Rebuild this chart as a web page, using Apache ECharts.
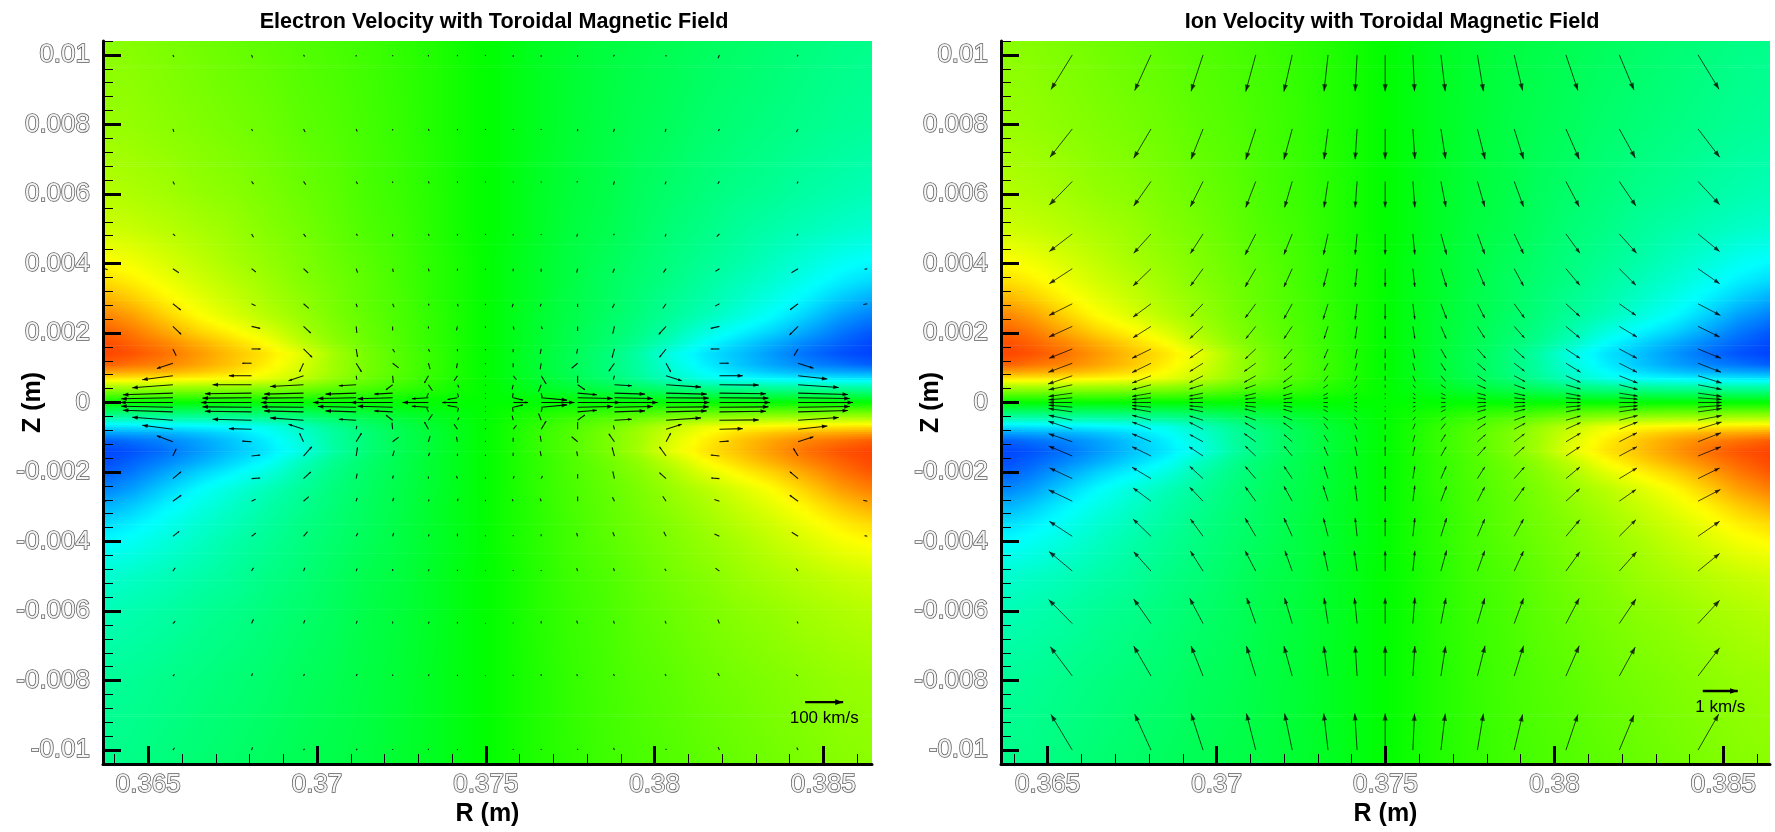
<!DOCTYPE html>
<html><head><meta charset="utf-8">
<style>html,body{margin:0;padding:0;background:#fff}#c{width:1775px;height:832px}</style>
<script src="https://cdn.jsdelivr.net/npm/echarts@6/dist/echarts.min.js"></script>
</head><body><div id="c"></div>
<script>
const titles = ['Electron Velocity with Toroidal Magnetic Field', 'Ion Velocity with Toroidal Magnetic Field'];
const xName = 'R (m)', yName = 'Z (m)';
const xTickLabels = [0.365, 0.37, 0.375, 0.38, 0.385];
const yTickLabels = [0.01, 0.008, 0.006, 0.004, 0.002, 0, -0.002, -0.004, -0.006, -0.008, -0.01];
const xMinorTicks = [0.364,0.366,0.367,0.368,0.369,0.371,0.372,0.373,0.374,0.376,0.377,0.378,0.379,0.381,0.382,0.383,0.384,0.386];
const yMinorTicks = [0.0104,0.0096,0.0092,0.0088,0.0084,0.0076,0.0072,0.0068,0.0064,0.0056,0.0052,0.0048,0.0044,0.0036,0.0032,0.0028,0.0024,0.0016,0.0012,0.0008,0.0004,-0.0004,-0.0008,-0.0012,-0.0016,-0.0024,-0.0028,-0.0032,-0.0036,-0.0044,-0.0048,-0.0052,-0.0056,-0.0064,-0.0068,-0.0072,-0.0076,-0.0084,-0.0088,-0.0092,-0.0096,-0.0104];
const colorValues = [-100, -50, 0, 50, 100];
const colorRGB = [[0,0,255],[0,255,255],[0,255,0],[255,255,0],[255,0,0]];

const fieldR = [0.3636,0.3645,0.3655,0.3665,0.3675,0.3685,0.3695,0.3705,0.3715,0.3725,0.3735,0.3745,0.3755,0.3765,0.3775,0.3785,0.3795,0.3805,0.3815,0.3825,0.3835,0.3845,0.3855,0.3864];
const fieldZ = [0.0105,0.008,0.006,0.005,0.004,0.0035,0.003,0.0025,0.002,0.0017,0.0014,0.0011,0.0009,0.0007,0.0005,0.0003,0.00015,0,-0.00015,-0.0003,-0.0005,-0.0007,-0.0009,-0.0011,-0.0014,-0.0017,-0.002,-0.0025,-0.003,-0.0035,-0.004,-0.005,-0.006,-0.008,-0.0105];
const fieldValues = [
[27,26,24,22,20,18,16,14,12,9,6,2,-2,-6,-9,-12,-14,-16,-18,-20,-22,-24,-26,-27],
[30,29,27,25,23,21,18,16,13,10,6,2,-2,-6,-10,-13,-16,-18,-21,-23,-25,-27,-29,-30],
[36,34,32,29,27,24,21,18,14,11,7,2,-2,-7,-11,-14,-18,-21,-24,-27,-29,-32,-34,-36],
[41,39,36,33,30,26,23,19,15,12,7,2,-2,-7,-12,-15,-19,-23,-26,-30,-33,-36,-39,-41],
[51,48,43,38,33,29,25,21,17,13,8,3,-3,-8,-13,-17,-21,-25,-29,-33,-38,-43,-48,-51],
[57,53,47,41,36,31,26,22,18,13,8,3,-3,-8,-13,-18,-22,-26,-31,-36,-41,-47,-53,-57],
[66,60,52,45,39,33,28,23,18,14,8,3,-3,-8,-14,-18,-23,-28,-33,-39,-45,-52,-60,-66],
[75,69,59,50,43,36,30,24,19,14,9,3,-3,-9,-14,-19,-24,-30,-36,-43,-50,-59,-69,-75],
[83,77,68,59,52,44,34,26,20,15,9,3,-3,-9,-15,-20,-26,-34,-44,-52,-59,-68,-77,-83],
[86,81,74,66,58,50,38,28,21,15,9,3,-3,-9,-15,-21,-28,-38,-50,-58,-66,-74,-81,-86],
[87,84,78,70,62,55,45,32,23,16,10,3,-3,-10,-16,-23,-32,-45,-55,-62,-70,-78,-84,-87],
[82,78,74,68,61,53,43,31,23,16,10,3,-3,-10,-16,-23,-31,-43,-53,-61,-68,-74,-78,-82],
[70,68,66,62,57,50,41,31,23,16,10,3,-3,-10,-16,-23,-31,-41,-50,-57,-62,-66,-68,-70],
[56,55,54,52,50,46,38,29,21,15,9,3,-3,-9,-15,-21,-29,-38,-46,-50,-52,-54,-55,-56],
[38,38,37,36,35,32,28,22,17,12,7,2,-2,-7,-12,-17,-22,-28,-32,-35,-36,-37,-38,-38],
[23,23,22,22,21,20,18,14,11,8,5,2,-2,-5,-8,-11,-14,-18,-20,-21,-22,-22,-23,-23],
[11,11,11,11,10,10,9,7,6,4,2,1,-1,-2,-4,-6,-7,-9,-10,-10,-11,-11,-11,-11],
[0,0,0,0,0,0,0,0,0,0,0,0,0,0,0,0,0,0,0,0,0,0,0,0],
[-11,-11,-11,-11,-10,-10,-9,-7,-6,-4,-2,-1,1,2,4,6,7,9,10,10,11,11,11,11],
[-23,-23,-22,-22,-21,-20,-18,-14,-11,-8,-5,-2,2,5,8,11,14,18,20,21,22,22,23,23],
[-38,-38,-37,-36,-35,-32,-28,-22,-17,-12,-7,-2,2,7,12,17,22,28,32,35,36,37,38,38],
[-56,-55,-54,-52,-50,-46,-38,-29,-21,-15,-9,-3,3,9,15,21,29,38,46,50,52,54,55,56],
[-70,-68,-66,-62,-57,-50,-41,-31,-23,-16,-10,-3,3,10,16,23,31,41,50,57,62,66,68,70],
[-82,-78,-74,-68,-61,-53,-43,-31,-23,-16,-10,-3,3,10,16,23,31,43,53,61,68,74,78,82],
[-87,-84,-78,-70,-62,-55,-45,-32,-23,-16,-10,-3,3,10,16,23,32,45,55,62,70,78,84,87],
[-86,-81,-74,-66,-58,-50,-38,-28,-21,-15,-9,-3,3,9,15,21,28,38,50,58,66,74,81,86],
[-83,-77,-68,-59,-52,-44,-34,-26,-20,-15,-9,-3,3,9,15,20,26,34,44,52,59,68,77,83],
[-75,-69,-59,-50,-43,-36,-30,-24,-19,-14,-9,-3,3,9,14,19,24,30,36,43,50,59,69,75],
[-66,-60,-52,-45,-39,-33,-28,-23,-18,-14,-8,-3,3,8,14,18,23,28,33,39,45,52,60,66],
[-57,-53,-47,-41,-36,-31,-26,-22,-18,-13,-8,-3,3,8,13,18,22,26,31,36,41,47,53,57],
[-51,-48,-43,-38,-33,-29,-25,-21,-17,-13,-8,-3,3,8,13,17,21,25,29,33,38,43,48,51],
[-41,-39,-36,-33,-30,-26,-23,-19,-15,-12,-7,-2,2,7,12,15,19,23,26,30,33,36,39,41],
[-36,-34,-32,-29,-27,-24,-21,-18,-14,-11,-7,-2,2,7,11,14,18,21,24,27,29,32,34,36],
[-30,-29,-27,-25,-23,-21,-18,-16,-13,-10,-6,-2,2,6,10,13,16,18,21,23,25,27,29,30],
[-27,-26,-24,-22,-20,-18,-16,-14,-12,-9,-6,-2,2,6,9,12,14,16,18,20,22,24,26,27]
];

const arrowR = [0.36573,0.36806,0.3696,0.37116,0.37224,0.3733,0.37416,0.37499,0.37581,0.37664,0.37772,0.37881,0.38034,0.38192,0.38425];
const arrowZ = [0.01,0.00787,0.00636,0.00485,0.00385,0.00284,0.00219,0.00154,0.00113,0.00077,0.00051,0.00027,0.000135,0,-0.000135,-0.00027,-0.00051,-0.00077,-0.00113,-0.00154,-0.00219,-0.00284,-0.00385,-0.00485,-0.00636,-0.00787,-0.01];

const electronU = [
[3,3,3,0,0,0,0,0,0,0,0,-3,0,-4,-3],
[3,3,5,3,0,2,0,0,0,0,0,-3,-3,-3,-5],
[5,6,7,4,0,2,0,0,0,0,-3,-3,-3,-5,-3],
[7,6,7,4,0,2,0,0,0,0,-3,-3,-3,-8,-4],
[18,13,14,4,2,2,0,0,0,0,-3,-5,-8,-12,-20],
[24,12,16,3,4,2,2,0,-3,-3,0,-6,-10,-13,-24],
[25,26,22,2,0,0,-3,0,3,4,0,-5,-22,-26,-26],
[10,27,26,4,6,4,0,0,0,-3,-3,-7,-20,-26,-12],
[-48,-28,-12,16,18,5,-3,0,0,-3,-18,-17,14,28,46],
[-92,-68,-45,2,2,-12,-10,0,10,15,0,-3,47,70,88],
[-122,-117,-100,-52,-20,12,5,0,-3,-8,22,52,105,118,122],
[-150,-140,-118,-92,-55,-5,3,0,-2,3,58,92,122,140,150],
[-155,-147,-125,-115,-105,-50,-30,0,30,78,105,115,128,147,155],
[-158,-152,-128,-130,-126,-78,-46,0,45,100,128,130,130,152,165],
[-155,-147,-125,-115,-105,-50,-30,0,30,78,105,115,128,147,155],
[-150,-140,-118,-92,-55,-5,3,0,-2,3,58,92,122,140,150],
[-122,-117,-100,-52,-20,12,5,0,-3,-8,22,52,105,118,122],
[-92,-68,-45,2,-2,-12,-10,0,10,15,0,-3,47,70,88],
[-48,-28,-12,16,18,5,-3,0,0,-3,-18,-17,14,28,46],
[10,26,25,4,5,4,0,0,0,-3,-3,-7,-20,-26,-14],
[25,26,22,3,2,0,-3,0,3,4,0,-5,-20,-25,-25],
[25,12,16,3,3,2,2,0,-3,-3,0,-6,-10,-15,-25],
[19,13,12,5,3,2,0,0,0,0,-3,-5,-7,-15,-19],
[7,6,4,3,0,2,0,0,0,0,-3,-3,-4,-12,-6],
[7,6,4,3,0,2,0,0,0,0,-3,-3,-3,-5,-3],
[5,3,3,3,0,2,0,0,0,0,-3,-3,-3,-5,-6],
[5,3,3,3,0,0,0,0,0,0,0,-3,0,-4,-4]
];
const electronV = [
[-6,-8,-5,-5,-4,-5,-4,-3,-6,-6,-6,-5,-5,-10,-5],
[-9,-6,-9,-8,-5,-6,-4,-3,-3,-3,-7,-9,-9,-6,-9],
[-9,-8,-10,-8,-5,-6,-4,-3,-3,-3,-3,-10,-9,-7,-6],
[-6,-10,-9,-5,-8,-6,-5,-3,-5,-3,-8,-4,-8,-8,-5],
[-12,-10,-13,-12,-10,-8,-6,-3,-8,-9,-12,-12,-12,-8,-12],
[-19,-6,-14,-10,-10,-5,-8,-4,-10,-8,-10,-12,-14,-7,-18],
[-24,-6,-20,-20,-12,-6,-12,-4,-10,-8,-14,-22,-24,-6,-26],
[-20,0,-25,-24,-10,-8,-7,-4,-10,-15,-14,-26,-25,0,-20],
[-16,0,-26,-26,-14,-18,-15,-3,-12,-18,-15,-24,-26,0,-15],
[-12,0,-15,-12,-22,-22,-15,-3,-12,-25,-22,-12,-15,0,-10],
[-9,0,-5,-3,-15,-18,-8,-2,-14,-20,-15,-3,-7,-1,-8],
[-5,-2,-3,-3,-3,-12,-12,-2,-14,-12,-5,-3,-3,-2,-4],
[-3,-1,-1,-2,-3,-3,-5,-2,-7,-7,-2,-2,-1,-1,-2],
[0,0,0,0,0,0,0,0,0,0,0,0,0,0,0],
[3,1,1,2,3,3,5,2,7,7,2,2,1,1,2],
[5,2,3,3,3,12,12,2,14,12,5,3,3,2,4],
[9,3,7,3,15,18,8,2,14,20,16,3,7,1,8],
[12,2,15,10,20,22,15,3,12,25,22,12,15,2,10],
[18,2,26,26,14,18,15,3,12,18,15,24,26,2,15],
[22,3,28,26,16,10,7,4,10,15,14,26,28,3,23],
[21,2,20,15,10,6,8,4,8,8,14,22,18,2,21],
[18,6,14,10,10,5,8,4,6,8,14,12,15,5,18],
[15,10,14,10,10,6,8,3,4,6,10,12,14,7,12],
[10,10,10,8,6,5,4,2,3,3,9,9,7,9,8],
[7,13,10,8,6,6,5,2,3,8,9,8,8,12,6],
[5,8,6,6,5,5,4,2,4,6,5,6,6,9,5],
[7,8,4,4,3,4,3,2,3,3,4,6,4,9,8]
];
const electronEdge = [[0.36372,0.00385,8,-3],[0.36372,-0.00284,6,2],[0.3863,0.00385,-8,-2],[0.3863,0.00284,-12,-2],[0.3863,-0.00284,-12,3],[0.3863,-0.00385,-8,2]];

const ionU = [
[-64,-49,-36,-30,-25,-12,-6,0,5,13,18,25,36,44,63],
[-67,-52,-36,-30,-25,-12,-6,0,6,14,23,28,40,48,65],
[-69,-52,-38,-30,-23,-12,-6,0,6,15,22,28,40,50,65],
[-69,-52,-38,-32,-25,-14,-6,0,6,17,22,28,42,52,65],
[-69,-54,-38,-32,-25,-14,-6,0,6,17,22,28,42,50,65],
[-70,-54,-38,-32,-25,-15,-6,0,6,17,22,31,42,50,67],
[-70,-54,-40,-30,-25,-12,-6,0,6,16,22,31,42,53,65],
[-70,-57,-40,-32,-25,-12,-6,0,6,16,25,31,42,53,69],
[-72,-57,-40,-35,-25,-12,-6,0,6,14,25,31,44,53,69],
[-73,-57,-41,-35,-27,-12,-7,0,7,14,25,33,44,55,71],
[-71,-57,-41,-33,-27,-14,-8,0,8,14,25,33,44,55,71],
[-71,-57,-41,-33,-27,-14,-8,0,8,14,25,33,44,55,71],
[-71,-57,-41,-32,-26,-14,-8,0,8,14,25,33,44,55,71],
[-71,-57,-41,-32,-26,-14,-8,0,8,14,26,33,44,55,71],
[-71,-57,-41,-32,-26,-14,-8,0,8,14,25,33,44,55,71],
[-71,-57,-41,-33,-27,-14,-8,0,8,14,25,33,44,55,71],
[-71,-57,-41,-33,-27,-14,-8,0,8,14,25,33,44,55,71],
[-72,-57,-41,-33,-27,-12,-7,0,7,14,25,33,44,55,71],
[-71,-57,-40,-35,-25,-12,-6,0,6,14,25,31,44,53,69],
[-71,-57,-42,-32,-25,-12,-6,0,6,16,25,31,42,53,69],
[-68,-57,-40,-32,-25,-12,-6,0,6,16,22,31,42,53,65],
[-71,-54,-40,-32,-25,-15,-6,0,6,17,22,31,42,50,67],
[-69,-54,-38,-32,-25,-14,-6,0,6,17,22,28,42,50,65],
[-70,-52,-38,-32,-22,-13,-9,0,6,17,22,28,42,52,65],
[-71,-52,-40,-27,-23,-12,-8,0,6,15,22,28,40,50,65],
[-66,-52,-36,-28,-25,-13,-6,0,6,14,23,28,40,48,65],
[-64,-49,-36,-28,-23,-13,-7,0,5,13,18,25,36,44,62]
];
const ionV = [
[-104,-107,-109,-110,-110,-109,-109,-109,-109,-109,-109,-107,-107,-105,-103],
[-85,-88,-91,-92,-92,-91,-91,-91,-90,-90,-91,-91,-91,-87,-85],
[-71,-74,-76,-78,-78,-78,-78,-78,-78,-77,-76,-76,-76,-74,-70],
[-53,-58,-59,-63,-62,-63,-62,-62,-62,-62,-61,-60,-58,-58,-53],
[-45,-52,-52,-55,-55,-55,-55,-55,-55,-55,-52,-52,-50,-50,-45],
[-35,-40,-40,-43,-45,-47,-47,-47,-47,-45,-43,-43,-38,-35,-35],
[-32,-34,-37,-37,-37,-37,-37,-37,-37,-37,-35,-35,-35,-32,-32],
[-28,-28,-28,-30,-30,-28,-28,-28,-28,-28,-28,-28,-28,-28,-28],
[-27,-28,-25,-25,-22,-22,-22,-22,-22,-22,-22,-24,-27,-27,-27],
[-25,-22,-21,-20,-20,-17,-17,-15,-17,-17,-17,-18,-20,-22,-22],
[-15,-15,-13,-12,-12,-10,-10,-9,-10,-10,-11,-12,-13,-14,-14],
[-10,-10,-9,-9,-8,-7,-6,-5,-6,-7,-7,-8,-9,-9,-10],
[-6,-5,-4,-4,-4,-3,-3,-3,-3,-3,-4,-4,-4,-4,-5],
[0,0,0,0,0,0,0,0,0,0,0,0,0,0,0],
[6,5,4,4,4,3,3,3,3,3,4,4,4,4,5],
[10,10,9,9,8,7,6,5,6,7,7,8,9,9,10],
[15,15,13,12,12,10,10,9,10,10,11,12,13,14,14],
[24,22,21,20,20,17,17,15,17,17,17,18,20,22,22],
[24,24,22,25,22,20,20,20,20,22,22,24,26,27,27],
[30,28,28,30,30,28,28,28,28,28,28,28,28,28,28],
[32,34,37,37,37,37,37,37,37,37,35,35,35,32,32],
[34,40,42,44,45,47,47,47,47,45,43,43,38,35,35],
[45,52,52,55,55,55,55,55,55,55,52,52,50,50,45],
[59,58,60,61,61,61,61,61,61,62,61,60,58,58,53],
[72,74,76,77,77,77,77,77,78,77,76,76,76,74,70],
[88,90,90,90,90,90,90,90,90,90,91,91,91,87,85],
[107,108,110,110,110,110,110,110,109,109,109,107,107,105,108]
];
const electronKey = [0.38446, -0.00862, 114, 0, '100 km/s'];
const ionKey = [0.38439, -0.0083, 105, 0, '1 km/s'];

const PX_PER_UNIT = 1 / 3;
const panels = [
  {left: 103, xMin: 0.36366, xMax: 0.38644, U: electronU, V: electronV, extra: electronEdge, key: electronKey, titleX: 489},
  {left: 1001, xMin: 0.36362, xMax: 0.38638, U: ionU, V: ionV, extra: [], key: ionKey, titleX: 1387}
];
const Z_MAX = 0.0104, Z_MIN = -0.0104;
const numFont = 'Liberation Sans';

function valueColor(v) {
  let i = 0;
  while (i < colorValues.length - 2 && v > colorValues[i + 1]) i++;
  const t = Math.max(0, Math.min(1, (v - colorValues[i]) / (colorValues[i + 1] - colorValues[i])));
  const a = colorRGB[i], b = colorRGB[i + 1];
  return 'rgb(' + a.map((c, k) => Math.round(c + (b[k] - c) * t)).join(',') + ')';
}

function heatSeries(p, idx) {
  return {
    type: 'custom', xAxisIndex: idx * 2, yAxisIndex: idx * 2, z: 1, silent: true, clip: true,
    encode: {x: 0, y: 1},
    data: fieldZ.slice(0, -1).map((z, j) => [fieldR[0], z, j]),
    renderItem(params, api) {
      const j = api.value(2);
      const a = api.coord([p.xMin, fieldZ[j]]), b = api.coord([p.xMax, fieldZ[j + 1]]);
      const n = Math.max(1, Math.ceil((b[1] - a[1]) / 2)), h = (b[1] - a[1]) / n;
      const children = [];
      for (let s = 0; s < n; s++) {
        const t = (s + 0.5) / n, stops = [];
        for (let c = 0; c < fieldR.length - 1; c++) {
          for (let q = 0; q < 3; q++) {
            const f = q / 3;
            const v0 = fieldValues[j][c] * (1 - f) + fieldValues[j][c + 1] * f;
            const v1 = fieldValues[j + 1][c] * (1 - f) + fieldValues[j + 1][c + 1] * f;
            const r = fieldR[c] * (1 - f) + fieldR[c + 1] * f;
            const o = (r - p.xMin) / (p.xMax - p.xMin);
            if (o >= 0 && o <= 1) stops.push({offset: o, color: valueColor(v0 * (1 - t) + v1 * t)});
          }
        }
        const last = fieldValues[j][fieldR.length - 1] * (1 - t) + fieldValues[j + 1][fieldR.length - 1] * t;
        stops.push({offset: 1, color: valueColor(last)});
        children.push({
          type: 'rect',
          shape: {x: a[0], y: a[1] + s * h, width: b[0] - a[0], height: h + 0.7},
          style: {fill: new echarts.graphic.LinearGradient(0, 0, 1, 0, stops)}
        });
      }
      return {type: 'group', children};
    }
  };
}

function arrowShape(tail, dx, dy, maxHead, lw, op) {
  const len = Math.hypot(dx, dy);
  const tip = [tail[0] + dx, tail[1] + dy];
  const kids = [{type: 'line', shape: {x1: tail[0], y1: tail[1], x2: tip[0], y2: tip[1]},
    style: {stroke: '#000', lineWidth: lw, opacity: op}}];
  if (len >= 8) {
    const headLen = Math.min(maxHead, len * 0.22), headHalf = headLen * 0.37;
    const ux = dx / len, uy = dy / len;
    const bx = tip[0] - ux * headLen, by = tip[1] - uy * headLen;
    kids.push({type: 'polygon', shape: {points: [tip,
      [bx - uy * headHalf, by + ux * headHalf], [bx + uy * headHalf, by - ux * headHalf]]},
      style: {fill: '#000', opacity: op}});
  }
  return kids;
}

function arrowSeries(p, idx) {
  const data = [];
  arrowZ.forEach((z, i) => arrowR.forEach((r, k) => data.push([r, z, p.U[i][k], p.V[i][k]])));
  p.extra.forEach(e => data.push(e));
  return {
    type: 'custom', xAxisIndex: idx * 2, yAxisIndex: idx * 2, z: 2, silent: true, clip: true,
    encode: {x: 0, y: 1}, data,
    renderItem(params, api) {
      const t = api.coord([api.value(0), api.value(1)]);
      const dx = api.value(2) * PX_PER_UNIT, dy = -api.value(3) * PX_PER_UNIT;
      return {type: 'group', children: idx === 0
        ? arrowShape(t, dx, dy, 5.5, 1.1, 0.9)
        : arrowShape(t, dx, dy, 7, 1, 0.72)};
    }
  };
}

function keySeries(p, idx) {
  return {
    type: 'custom', xAxisIndex: idx * 2, yAxisIndex: idx * 2, z: 3, silent: true, clip: true,
    encode: {x: 0, y: 1}, data: [p.key],
    renderItem(params, api) {
      const t = api.coord([api.value(0), api.value(1)]);
      const dx = api.value(2) * PX_PER_UNIT;
      const kids = arrowShape(t, dx, 0, 8, 2.4, 1);
      kids.push({type: 'text', style: {x: t[0] + dx / 2, y: t[1] + 16, text: p.key[4],
        font: '17px ' + numFont, fill: '#000', align: 'center', verticalAlign: 'middle'}});
      return {type: 'group', children: kids};
    }
  };
}

const tickLabelStyle = {
  show: true, fontFamily: numFont, fontSize: 26, color: '#f4f4f4',
  textBorderColor: '#5a5a5a', textBorderWidth: 1.5
};
const nameStyle = {fontFamily: numFont, fontWeight: 'bold', fontSize: 25, color: '#000'};

const grid = [], xAxis = [], yAxis = [], series = [];
panels.forEach((p, idx) => {
  grid.push({left: p.left, width: 769, top: 41, height: 723, containLabel: false, outerBoundsMode: 'none'});
  const xBase = {type: 'value', gridIndex: idx, min: p.xMin, max: p.xMax, position: 'bottom', z: 4, splitLine: {show: false}};
  const yBase = {type: 'value', gridIndex: idx, min: Z_MIN, max: Z_MAX, position: 'left', z: 4, splitLine: {show: false}};
  xAxis.push(Object.assign({}, xBase, {
    name: xName, nameLocation: 'middle', nameGap: 38, nameMoveOverlap: false, nameTextStyle: nameStyle,
    axisLine: {show: true, onZero: false, lineStyle: {color: '#000', width: 3}},
    axisTick: {show: true, inside: true, length: 18, customValues: xTickLabels, lineStyle: {color: '#000', width: 3}},
    axisLabel: Object.assign({}, tickLabelStyle, {customValues: xTickLabels, margin: 8, formatter: v => String(v)})
  }));
  xAxis.push(Object.assign({}, xBase, {
    axisLine: {show: false, onZero: false},
    axisTick: {show: true, inside: true, length: 10, customValues: xMinorTicks, lineStyle: {color: '#000', width: 1}},
    axisLabel: {show: false}
  }));
  yAxis.push(Object.assign({}, yBase, {
    name: yName, nameLocation: 'middle', nameGap: 57, nameMoveOverlap: false, nameRotate: 90, nameTextStyle: nameStyle,
    axisLine: {show: true, onZero: false, lineStyle: {color: '#000', width: 3}},
    axisTick: {show: true, inside: true, length: 18, customValues: yTickLabels, lineStyle: {color: '#000', width: 3}},
    axisLabel: Object.assign({}, tickLabelStyle, {customValues: yTickLabels, margin: 13, formatter: v => String(v)})
  }));
  yAxis.push(Object.assign({}, yBase, {
    axisLine: {show: false, onZero: false},
    axisTick: {show: true, inside: true, length: 10, customValues: yMinorTicks, lineStyle: {color: '#000', width: 1}},
    axisLabel: {show: false}
  }));
  series.push(heatSeries(p, idx), arrowSeries(p, idx), keySeries(p, idx));
});

const chart = echarts.init(document.getElementById('c'), null, {renderer: 'canvas', width: 1775, height: 832});
chart.setOption({
  animation: false,
  backgroundColor: '#fff',
  title: panels.map((p, i) => ({
    text: titles[i], left: p.titleX, top: 6, textAlign: 'center',
    textStyle: {fontFamily: numFont, fontWeight: 'bold', fontSize: 21.6, color: '#000'}
  })),
  grid, xAxis, yAxis, series
});
</script></body></html>
